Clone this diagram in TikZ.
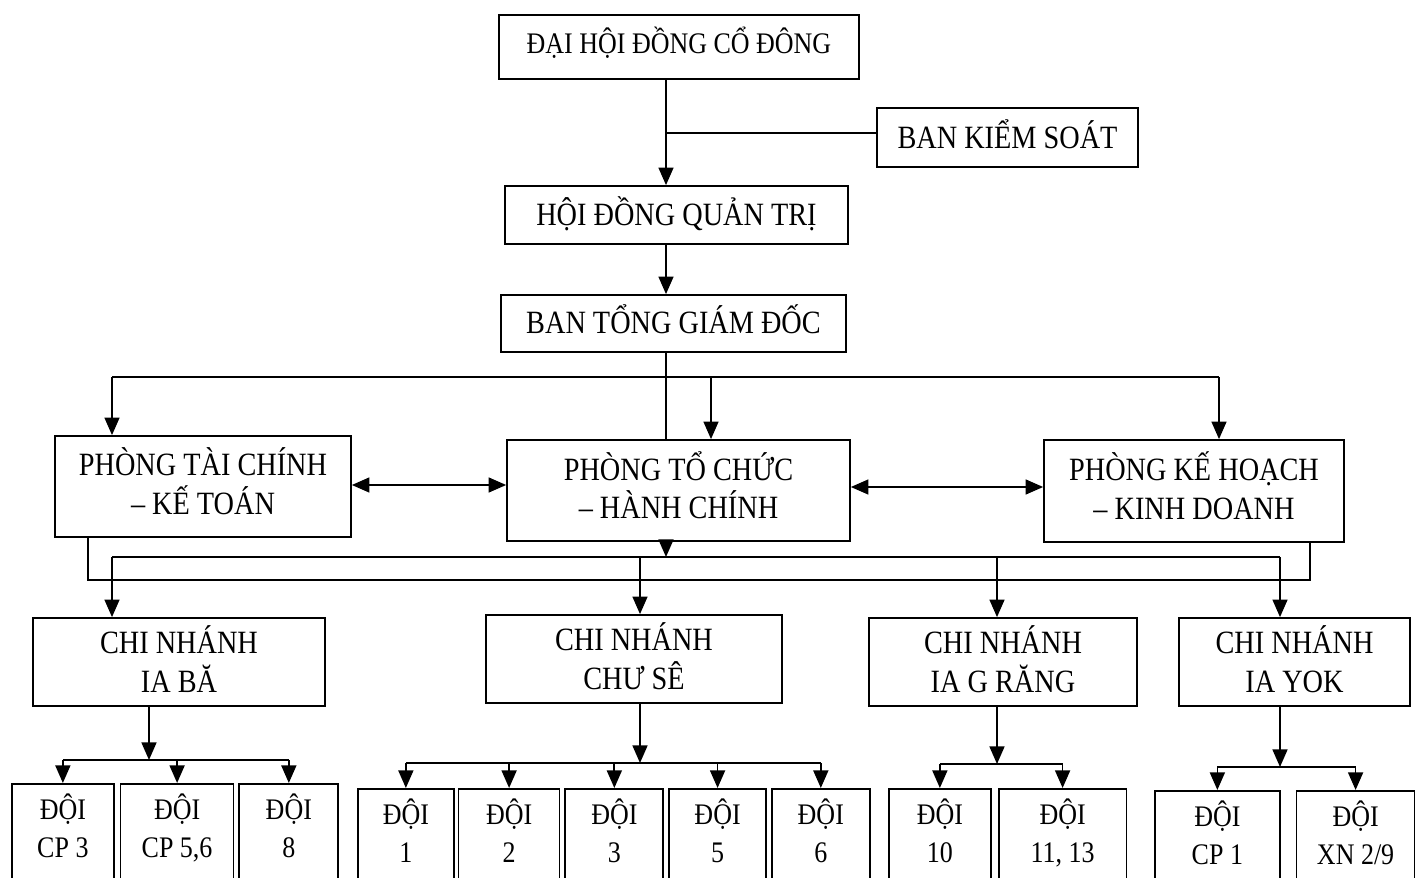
\documentclass[tikz,border=0pt]{standalone}
\usepackage{fontspec}
\setmainfont{Liberation Serif}[FakeStretch=0.87]
\usepackage{tikz}
\usetikzlibrary{positioning,calc,arrows.meta}

\begin{document}
\begin{tikzpicture}[x=0.02cm,y=-0.02cm,
box/.style={draw,line width=1pt,inner sep=2pt,align=center,font=\fontsize{18.5}{22}\selectfont},
dept/.style={box,text depth=6pt},
team/.style={box,font=\fontsize{17}{21.5}\selectfont,minimum height=1.96cm,text height=33pt,text depth=5pt},
edge/.style={-{Triangle[length=10pt,width=8.5pt]},line width=1pt},
twoway/.style={{Triangle[length=10pt,width=8.5pt]}-{Triangle[length=10pt,width=8.5pt]},line width=1pt},
line/.style={line width=1pt}]

\clip (0,0) rectangle (1417,878);
\fill[white] (0,0) rectangle (1417,878);

% nodes
\node[box,font=\fontsize{17}{21.5}\selectfont,text depth=8pt,minimum width=7.2cm,minimum height=1.28cm] (dhcd) at (679,47) {ĐẠI HỘI ĐỒNG CỔ ĐÔNG};
\node[box,text depth=4pt,minimum width=5.22cm,minimum height=1.18cm] (bks) at (1007.5,137.5) {BAN KIỂM SOÁT};
\node[box,text depth=4pt,minimum width=6.86cm,minimum height=1.16cm] (hdqt) at (676.5,215) {HỘI ĐỒNG QUẢN TRỊ};
\node[box,text depth=5pt,minimum width=6.9cm,minimum height=1.14cm] (btgd) at (673.5,323.5) {BAN TỔNG GIÁM ĐỐC};

\node[dept,minimum width=5.92cm,minimum height=2.02cm] (tckt) at (203,486.5) {PHÒNG TÀI CHÍNH\\– KẾ TOÁN};
\node[dept,minimum width=6.86cm,minimum height=2.02cm] (tchc) at (678.5,490.5) {PHÒNG TỔ CHỨC\\– HÀNH CHÍNH};
\node[dept,minimum width=6cm,minimum height=2.04cm] (khkd) at (1194,491) {PHÒNG KẾ HOẠCH\\– KINH DOANH};

\node[box,text depth=3pt,minimum width=5.84cm,minimum height=1.76cm] (iaba) at (179,662) {CHI NHÁNH\\IA BĂ};
\node[box,text depth=3pt,minimum width=5.92cm,minimum height=1.76cm] (chuse) at (634,659) {CHI NHÁNH\\CHƯ SÊ};
\node[box,text depth=3pt,minimum width=5.36cm,minimum height=1.76cm] (iagrang) at (1003,662) {CHI NHÁNH\\IA G RĂNG};
\node[box,text depth=3pt,minimum width=4.62cm,minimum height=1.76cm] (iayok) at (1294.5,662) {CHI NHÁNH\\IA YOK};

% teams
\node[team,minimum width=2.04cm,anchor=north west] (ba1) at (11,783) {ĐỘI\\CP 3};
\node[team,minimum width=2.26cm,right=0.1cm of ba1] (ba2) {ĐỘI\\CP 5,6};
\node[team,minimum width=1.98cm,right=0.08cm of ba2] (ba3) {ĐỘI\\8};

\node[team,minimum width=1.92cm,anchor=north west] (cs1) at (357,788) {ĐỘI\\1};
\node[team,minimum width=2.02cm,right=0.06cm of cs1] (cs2) {ĐỘI\\2};
\node[team,minimum width=1.96cm,right=0.08cm of cs2] (cs3) {ĐỘI\\3};
\node[team,minimum width=1.94cm,right=0.08cm of cs3] (cs5) {ĐỘI\\5};
\node[team,minimum width=1.96cm,right=0.08cm of cs5] (cs6) {ĐỘI\\6};

\node[team,minimum width=2.04cm,anchor=north west] (gr1) at (888,788) {ĐỘI\\10};
\node[team,minimum width=2.56cm,right=0.12cm of gr1] (gr2) {ĐỘI\\11, 13};

\node[team,minimum width=2.5cm,anchor=north west] (yk1) at (1154,790) {ĐỘI\\CP 1};
\node[team,minimum width=2.36cm,right=0.3cm of yk1] (yk2) {ĐỘI\\XN 2/9};

% junctions
\coordinate (trunk) at (666,133);
\coordinate (top1) at (112,377);
\coordinate (top2) at (711,377);
\coordinate (top3) at (1219,377);
\coordinate (busa) at (666,557);
\coordinate (busb1) at (88,580);
\coordinate (busb2) at (1310,580);
\coordinate (ba) at (149,760);
\coordinate (cs) at (640,763);
\coordinate (gr) at (997,764);
\coordinate (yk) at (1280,767);

% top chain
\draw[edge] (dhcd.south -| trunk) -- (hdqt.north -| trunk);
\draw[line] (bks.west |- trunk) -- (trunk);
\draw[edge] (hdqt.south -| trunk) -- (btgd.north -| trunk);
\draw[line] (btgd.south -| trunk) -- (tchc.north -| trunk);

% departments
\draw[line] (top1) -- (top3);
\draw[edge] (top1) -- (tckt.north -| top1);
\draw[edge] (top2) -- (tchc.north -| top2);
\draw[edge] (top3) -- (khkd.north -| top3);
\draw[twoway] (tckt.east |- 0,485) -- (tchc.west |- 0,485);
\draw[twoway] (tchc.east |- 0,487) -- (khkd.west |- 0,487);

% branches
\draw[edge] (tchc.south -| busa) -- (busa);
\draw[line] (top1 |- busa) -- (yk |- busa);
\draw[line] (tckt.south -| busb1) -- (busb1) -- (busb2) -- (khkd.south -| busb2);
\draw[edge] (top1 |- busa) -- (iaba.north -| top1);
\draw[edge] (cs |- busa) -- (chuse.north -| cs);
\draw[edge] (gr |- busa) -- (iagrang.north -| gr);
\draw[edge] (yk |- busa) -- (iayok.north -| yk);

% teams
\draw[edge] (iaba.south -| ba) -- (ba);
\draw[line] (ba1 |- ba) -- (ba3 |- ba);
\foreach \t in {ba1,ba2,ba3} \draw[edge] (\t |- ba) -- (\t.north);

\draw[edge] (chuse.south -| cs) -- (cs);
\draw[line] (cs1 |- cs) -- (cs6 |- cs);
\foreach \t in {cs1,cs2,cs3,cs5,cs6} \draw[edge] (\t |- cs) -- (\t.north);

\draw[edge] (iagrang.south -| gr) -- (gr);
\draw[line] (gr1 |- gr) -- (gr2 |- gr);
\foreach \t in {gr1,gr2} \draw[edge] (\t |- gr) -- (\t.north);

\draw[edge] (iayok.south -| yk) -- (yk);
\draw[line] (yk1 |- yk) -- (yk2 |- yk);
\foreach \t in {yk1,yk2} \draw[edge] (\t |- yk) -- (\t.north);
\end{tikzpicture}
\end{document}
